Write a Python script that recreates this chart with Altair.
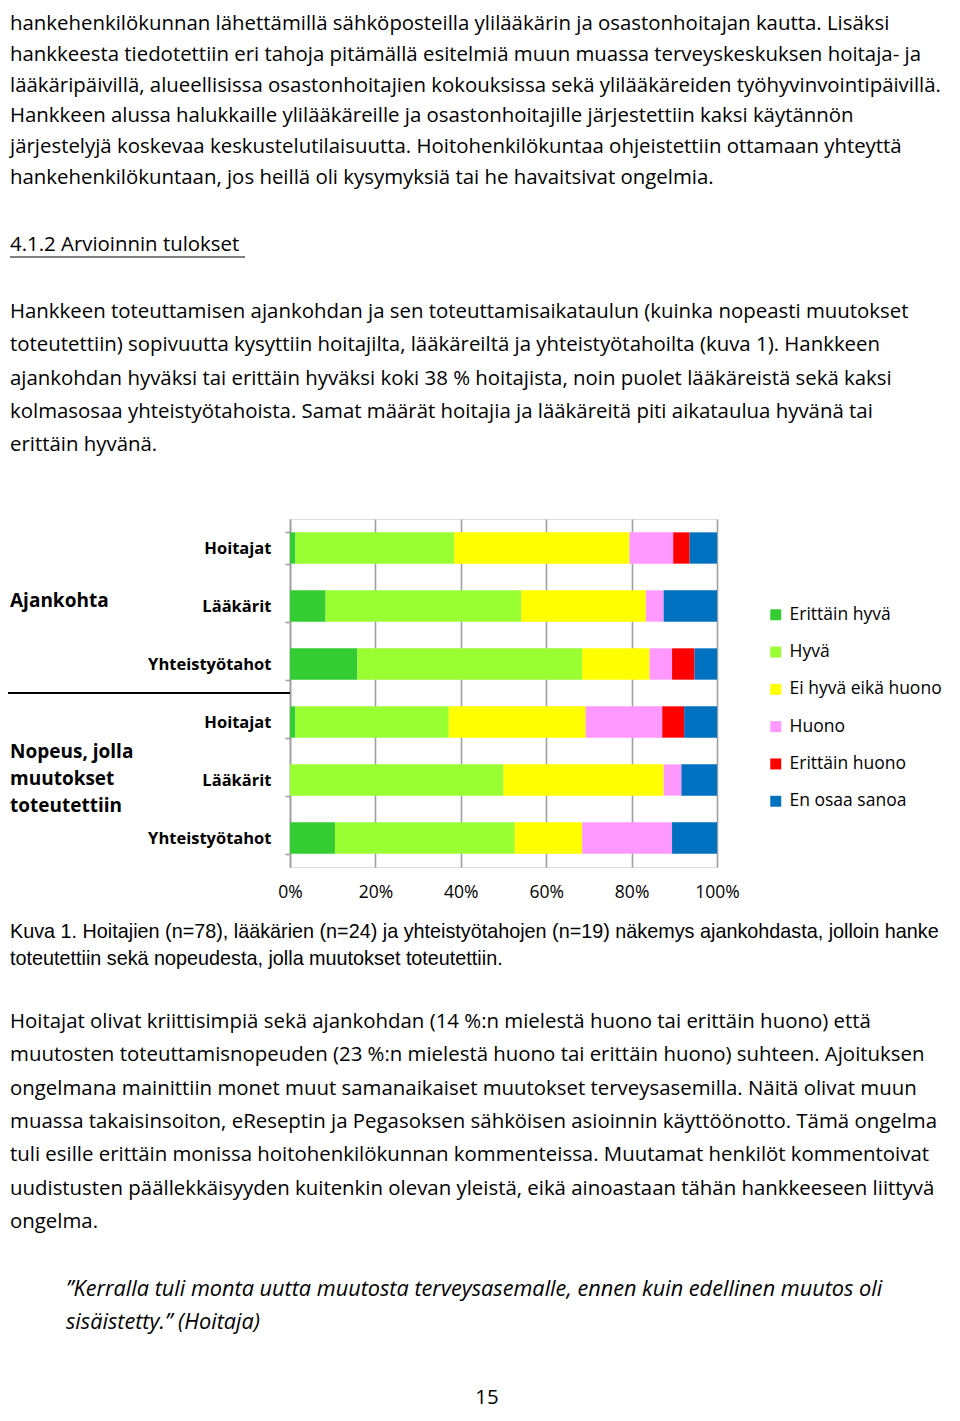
import altair as alt
import pandas as pd

# ---------------- data ----------------
answers = ["Erittäin hyvä", "Hyvä", "Ei hyvä eikä huono", "Huono", "Erittäin huono", "En osaa sanoa"]
answer_colors = ["#33cc33", "#99ff33", "#ffff00", "#ff99ff", "#ff0000", "#0070c0"]
topics = ["Ajankohta", "Ajankohta", "Ajankohta", "Nopeus", "Nopeus", "Nopeus"]
respondents = ["Hoitajat", "Lääkärit", "Yhteistyötahot", "Hoitajat", "Lääkärit", "Yhteistyötahot"]
# number of respondents per answer (n=78, 24, 19)
counts = [
    [1, 29, 32, 8, 3, 5],
    [2, 11, 7, 1, 0, 3],
    [3, 10, 3, 1, 1, 1],
    [1, 28, 25, 14, 4, 6],
    [0, 12, 9, 1, 0, 2],
    [2, 8, 3, 4, 0, 2],
]
x_ticks = [0, 0.2, 0.4, 0.6, 0.8, 1.0]

para1 = [
    "hankehenkilökunnan lähettämillä sähköposteilla ylilääkärin ja osastonhoitajan kautta. Lisäksi",
    "hankkeesta tiedotettiin eri tahoja pitämällä esitelmiä muun muassa terveyskeskuksen hoitaja- ja",
    "lääkäripäivillä, alueellisissa osastonhoitajien kokouksissa sekä ylilääkäreiden työhyvinvointipäivillä.",
    "Hankkeen alussa halukkaille ylilääkäreille ja osastonhoitajille järjestettiin kaksi käytännön",
    "järjestelyjä koskevaa keskustelutilaisuutta. Hoitohenkilökuntaa ohjeistettiin ottamaan yhteyttä",
    "hankehenkilökuntaan, jos heillä oli kysymyksiä tai he havaitsivat ongelmia.",
]
heading = "4.1.2 Arvioinnin tulokset"
para2 = [
    "Hankkeen toteuttamisen ajankohdan ja sen toteuttamisaikataulun (kuinka nopeasti muutokset",
    "toteutettiin) sopivuutta kysyttiin hoitajilta, lääkäreiltä ja yhteistyötahoilta (kuva 1). Hankkeen",
    "ajankohdan hyväksi tai erittäin hyväksi koki 38 % hoitajista, noin puolet lääkäreistä sekä kaksi",
    "kolmasosaa yhteistyötahoista. Samat määrät hoitajia ja lääkäreitä piti aikataulua hyvänä tai",
    "erittäin hyvänä.",
]
caption = [
    "Kuva 1. Hoitajien (n=78), lääkärien (n=24) ja yhteistyötahojen (n=19) näkemys ajankohdasta, jolloin hanke",
    "toteutettiin sekä nopeudesta, jolla muutokset toteutettiin.",
]
para3 = [
    "Hoitajat olivat kriittisimpiä sekä ajankohdan (14 %:n mielestä huono tai erittäin huono) että",
    "muutosten toteuttamisnopeuden (23 %:n mielestä huono tai erittäin huono) suhteen. Ajoituksen",
    "ongelmana mainittiin monet muut samanaikaiset muutokset terveysasemilla. Näitä olivat muun",
    "muassa takaisinsoiton, eReseptin ja Pegasoksen sähköisen asioinnin käyttöönotto. Tämä ongelma",
    "tuli esille erittäin monissa hoitohenkilökunnan kommenteissa. Muutamat henkilöt kommentoivat",
    "uudistusten päällekkäisyyden kuitenkin olevan yleistä, eikä ainoastaan tähän hankkeeseen liittyvä",
    "ongelma.",
]
quote = [
    "”Kerralla tuli monta uutta muutosta terveysasemalle, ennen kuin edellinen muutos oli",
    "sisäistetty.” (Hoitaja)",
]
group_labels = [["Ajankohta"], ["Nopeus, jolla", "muutokset", "toteutettiin"]]
page_number = "15"

# ---------------- layout (page pixels) ----------------
PLOT_X0, PLOT_Y0 = 290, 519      # page position of plot origin
W, H = 427, 348
BODY_FONT = "Open Sans"
BODY_SIZE = 20.4
LINE = 33.3


def lines_df(lines, x_page, y_page, step):
    return pd.DataFrame({
        "t": lines,
        "px": [x_page - PLOT_X0] * len(lines),
        "py": [y_page + i * step - PLOT_Y0 for i in range(len(lines))],
    })


def text_layer(df, font, size, weight="normal", style="normal", align="left"):
    return alt.Chart(df).mark_text(
        align=align, baseline="middle", font=font, fontSize=size,
        fontWeight=weight, fontStyle=style, color="black"
    ).encode(
        x=alt.X("px:Q", scale=None, axis=None),
        y=alt.Y("py:Q", scale=None, axis=None),
        text="t:N",
    )


# bar data
keys = [f"{t}|{r}" for t, r in zip(topics, respondents)]
rows = []
for k, row in zip(keys, counts):
    for j, (a, n) in enumerate(zip(answers, row)):
        rows.append({"key": k, "answer": a, "n": n, "ord": j})
df = pd.DataFrame(rows)

bars = alt.Chart(df).mark_bar().encode(
    x=alt.X("n:Q", stack="normalize", title=None,
            scale=alt.Scale(domain=[0, 1], nice=False),
            axis=alt.Axis(values=x_ticks, format=".0%", grid=True, gridColor="#a0a0a0",
                          gridWidth=1.6, domain=False, ticks=False, labelFont=BODY_FONT,
                          labelFontSize=17.5, labelColor="black", labelPadding=16,
                          labelFlush=False)),
    y=alt.Y("key:N", sort=keys, title=None,
            scale=alt.Scale(paddingInner=0.46, paddingOuter=0.23),
            axis=alt.Axis(labelExpr="split(datum.label, '|')[1]", labelFont=BODY_FONT,
                          labelFontSize=16.5, labelFontWeight="bold", labelColor="black",
                          labelPadding=14, tickBand="extent", tickSize=5, tickColor="#a0a0a0",
                          tickWidth=1.6, domainColor="#a0a0a0", domainWidth=1.6)),
    color=alt.Color("answer:N", sort=answers,
                    scale=alt.Scale(domain=answers, range=answer_colors),
                    legend=alt.Legend(title=None, orient="none", legendX=477, legendY=87,
                                      symbolType="square", symbolSize=120, symbolStrokeWidth=0,
                                      labelFont=BODY_FONT, labelFontSize=17.5, labelColor="black",
                                      rowPadding=18.3, labelOffset=5, padding=0)),
    order=alt.Order("ord:Q"),
)

layers = [bars]
layers.append(text_layer(lines_df(para1, 10, 24, 30.8), BODY_FONT, BODY_SIZE))
layers.append(text_layer(lines_df([heading], 10, 245, LINE), BODY_FONT, BODY_SIZE))
layers.append(text_layer(lines_df(para2, 10, 312, LINE), BODY_FONT, BODY_SIZE))
layers.append(text_layer(lines_df(caption, 10, 932, 27), "Liberation Sans", 19.8))
layers.append(text_layer(lines_df(para3, 10, 1022, LINE), BODY_FONT, BODY_SIZE))
layers.append(text_layer(lines_df(quote, 66, 1289, LINE), BODY_FONT, 21.7, style="italic"))
layers.append(text_layer(lines_df([page_number], 487, 1398, LINE), BODY_FONT, BODY_SIZE, align="center"))
layers.append(text_layer(lines_df(group_labels[0], 10, 601, 27), BODY_FONT, 19, weight="bold"))
layers.append(text_layer(lines_df(group_labels[1], 10, 752, 27), BODY_FONT, 19, weight="bold"))

# heading underline and group separator
layers.append(alt.Chart(pd.DataFrame({"a": [0]})).mark_rule(color="black", strokeWidth=1.2).encode(
    x=alt.value(10 - PLOT_X0), x2=alt.value(245 - PLOT_X0), y=alt.value(257 - PLOT_Y0)))
layers.append(alt.Chart(pd.DataFrame({"a": [0]})).mark_rule(color="black", strokeWidth=2).encode(
    x=alt.value(3 - PLOT_X0), x2=alt.value(0), y=alt.value(693 - PLOT_Y0)))

chart = alt.layer(*layers).properties(
    width=W, height=H,
    padding={"left": PLOT_X0 - 8, "top": PLOT_Y0 - 8, "right": 944 - (PLOT_X0 - 8) - W,
             "bottom": 1405 - (PLOT_Y0 - 8) - H},
    autosize=alt.AutoSizeParams(type="none"),
).configure_view(stroke=None).configure(background="white")

chart.save("out.html", embed_options={"renderer": "svg", "actions": False})
